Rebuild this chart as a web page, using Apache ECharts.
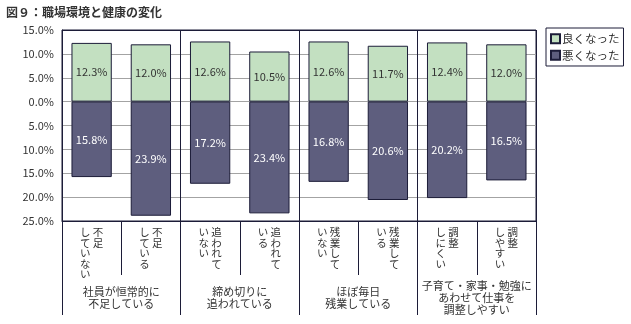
<!DOCTYPE html>
<html><head><meta charset="utf-8">
<script src="https://cdn.jsdelivr.net/npm/echarts@6/dist/echarts.min.js"></script>
<style>html,body{margin:0;padding:0;background:#fff}#c{width:631px;height:324px}</style>
</head><body><div id="c"></div>
<script>
// Categories: first line = right column (read first), second = left column
const categories = ["不足\nしていない","不足\nしている","追われて\nいない","追われて\nいる","残業して\nいない","残業して\nいる","調整\nしにくい","調整\nしやすい"];
const groups = ["社員が恒常的に\n不足している","締め切りに\n追われている","ほぼ毎日\n残業している","子育て・家事・勉強に\nあわせて仕事を\n調整しやすい"];
const seriesNames = ["良くなった","悪くなった"];
const better = [12.3,12.0,12.6,10.5,12.6,11.7,12.4,12.0];
const worse = [15.8,23.9,17.2,23.4,16.8,20.6,20.2,16.5];
const yMin = -25, yMax = 15, yStep = 5;

const FONT = '"Noto Sans CJK JP", sans-serif';
const BORDER = '#1c1c38';
function vertical(s){
  const cols = s.split('\n');
  const rows = Math.max(...cols.map(c => c.length));
  const lines = [];
  for (let i = 0; i < rows; i++) {
    const parts = [];
    for (let j = cols.length - 1; j >= 0; j--) parts.push(cols[j][i] || '\u3000');
    lines.push(parts.join('\u2009'));
  }
  return lines.join('\n');
}
const nLines = (yMax - yMin) / yStep + 1;
const splitColors = [];
for (let i = 0; i < nLines; i++) splitColors.push(i === nLines - 1 ? BORDER : '#a3a3a3');

const chart = echarts.init(document.getElementById('c'), null, {renderer:'canvas'});
chart.setOption({
  animation:false,
  textStyle:{fontFamily:FONT},
  title:{text:'図９：職場環境と健康の変化', left:1, top:1,
    textStyle:{fontSize:12, fontWeight:'bold', color:'#333', fontFamily:FONT}},
  legend:{orient:'vertical', left:546, top:28, itemWidth:9, itemHeight:9, itemGap:5,
    padding:[5,4,5,4], borderColor:BORDER, borderWidth:1, icon:'rect',
    textStyle:{fontSize:11.5, color:'#333', fontFamily:FONT, padding:[0,0,0,-3]},
    data:seriesNames},
  grid:{left:62, right:95, top:30, bottom:103, show:true, borderColor:BORDER, borderWidth:1, containLabel:false},
  xAxis:[{
    type:'category', data:categories, position:'bottom',
    axisLine:{show:true, onZero:false, lineStyle:{color:BORDER, width:1}},
    axisTick:{show:true, interval:0, length:54, lineStyle:{color:BORDER}},
    axisLabel:{interval:0, margin:6, formatter:vertical, fontSize:10.5, lineHeight:10.5, color:'#333', fontFamily:FONT},
    splitLine:{show:false}
  },{
    type:'category', data:groups, position:'bottom',
    axisLine:{show:false, onZero:false},
    axisTick:{show:true, interval:0, length:94, lineStyle:{color:BORDER}},
    axisLabel:{interval:0, margin:77, verticalAlign:'middle', fontSize:11, lineHeight:12, color:'#333', fontFamily:FONT},
    splitLine:{show:true, interval:0, lineStyle:{color:BORDER, width:1}}
  }],
  yAxis:{type:'value', min:yMin, max:yMax, interval:yStep,
    axisLine:{show:true, lineStyle:{color:BORDER}},
    axisTick:{show:false},
    axisLabel:{margin:8, fontSize:11, color:'#333', fontFamily:FONT,
      formatter:v => Math.abs(v).toFixed(1) + '%'},
    splitLine:{show:true, lineStyle:{color:splitColors, width:1}}
  },
  series:[{
    name:seriesNames[0], type:'bar', stack:'s', data:better, barWidth:'68%',
    itemStyle:{color:'#c3e0c1', borderColor:BORDER, borderWidth:1},
    label:{show:true, position:'inside', fontSize:11, color:'#333', fontFamily:FONT,
      formatter:p => Math.abs(p.value).toFixed(1) + '%'}
  },{
    name:seriesNames[1], type:'bar', stack:'s', data:worse.map(v => -v), barWidth:'68%',
    itemStyle:{color:'#5e5e7e', borderColor:BORDER, borderWidth:1},
    label:{show:true, position:'inside', fontSize:11, color:'#fff', fontFamily:FONT,
      formatter:p => Math.abs(p.value).toFixed(1) + '%'}
  }]
});
</script></body></html>
